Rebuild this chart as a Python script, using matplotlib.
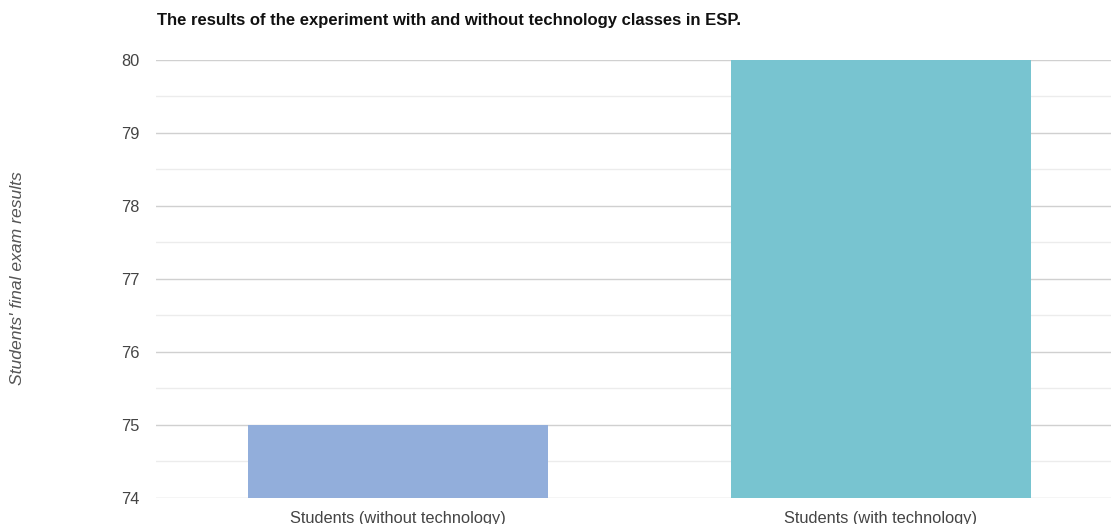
import matplotlib
matplotlib.use("Agg")
import matplotlib.pyplot as plt
from matplotlib.ticker import MultipleLocator

categories = ["Students (without technology)", "Students (with technology)"]
values = [75, 80]
colors = ["#92aedb", "#78c4d0"]
title = "The results of the experiment with and without technology classes in ESP."
ylabel = "Students' final exam results"

plt.rcParams['font.family'] = ['Liberation Sans', 'DejaVu Sans']

fig = plt.figure(figsize=(11.11, 5.24), dpi=100)
ax = fig.add_axes([156/1111, 1-498/524, 1-156/1111, (498-60)/524])

x = list(range(len(categories)))
ax.bar(x, [v - 74 for v in values], bottom=74, width=0.621, color=colors, zorder=3)

ax.set_ylim(74, 80)
ax.set_xlim(-0.5, 1.476)
ax.yaxis.set_major_locator(MultipleLocator(1))
ax.yaxis.set_minor_locator(MultipleLocator(0.5))
ax.grid(which='major', axis='y', color='#d0d0d0', linewidth=1.0, zorder=0)
ax.grid(which='minor', axis='y', color='#ececec', linewidth=1.0, zorder=0)
ax.set_xticks(x)
ax.set_xticklabels(categories)
for s in ax.spines.values():
    s.set_visible(False)
ax.tick_params(axis='both', which='both', length=0, labelsize=11.8, labelcolor='#444444')
ax.tick_params(axis='y', pad=12)
ax.tick_params(axis='x', pad=9.5)

fig.text(157/1111, 1-20/524, title, fontsize=12.0, fontweight='bold', color='#111111', va='center', ha='left')
fig.text(18/1111, 1-278/524, ylabel, fontsize=12.6, style='italic', color='#555555', rotation=90, va='center', ha='center')

fig.savefig("out.png", dpi=100)
